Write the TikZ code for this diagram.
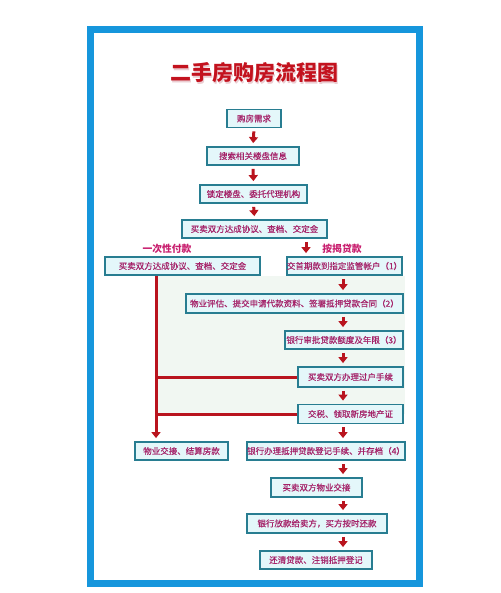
\documentclass[tikz,border=0pt]{standalone}
\usepackage{fontspec}
\setmainfont{Noto Sans CJK SC}
\newfontfamily\boxfont[FakeBold=0.4]{Noto Sans CJK SC}
\usetikzlibrary{arrows.meta,calc}
\definecolor{frameblue}{RGB}{22,150,220}
\definecolor{boxline}{RGB}{40,125,145}
\definecolor{boxfill}{RGB}{228,247,250}
\definecolor{txt}{RGB}{165,35,105}
\definecolor{lbl}{RGB}{200,30,110}
\definecolor{arr}{RGB}{185,20,30}
\definecolor{titlered}{RGB}{195,18,30}
\definecolor{shadowc}{RGB}{235,205,210}
\definecolor{tint}{RGB}{241,247,242}
\begin{document}
\begin{tikzpicture}[x=1pt,y=-1pt,
  box/.style={draw=boxline, line width=1.8pt, fill=boxfill, text=txt,
    font=\boxfont\fontsize{8.5}{10}\selectfont, minimum height=18pt, inner sep=0pt, anchor=center},
  lab/.style={text=lbl, font=\fontsize{9.8}{11}\selectfont\bfseries, inner sep=0pt},
  arrow/.style={draw=arr, line width=3pt, -{Triangle[width=9pt,length=6pt]},
    shorten <=3pt, shorten >=3pt},
  redline/.style={draw=arr, line width=3pt}]
\useasboundingbox (0,0) rectangle (500,593);
% frame
\draw[frameblue, line width=7pt] (90,30) rectangle (419,583);
% tint
\fill[tint] (158,276) rectangle (405,414);
% title
\node[text=shadowc, font=\fontsize{21}{24}\selectfont\bfseries] (tshadow) at (255.5,74.5) {二手房购房流程图};
\node[text=titlered, font=\fontsize{21}{24}\selectfont\bfseries] (title) at (254,73) {二手房购房流程图};
% column coordinates
\coordinate (ax) at (306,0);
\coordinate (rx) at (343,0);
\coordinate (lx) at (156,0);
% boxes
\node[box, minimum width=54pt] (b1) at (254,118.5) {购房需求};
\node[box, minimum width=92pt] (b2) at (253,156) {搜索相关楼盘信息};
\node[box, minimum width=107pt] (b3) at (253.5,194) {锁定楼盘、委托代理机构};
\node[box, minimum width=145pt] (b4) at (254.5,229) {买卖双方达成协议、查档、交定金};
\node[lab] (l1) at (167,249) {一次性付款};
\node[lab] (l2) at (342,249) {按揭贷款};
\node[box, minimum width=155pt] (b5l) at (182.5,266) {买卖双方达成协议、查档、交定金};
\node[box, minimum width=115pt] (b5r) at (344.5,266) {交首期款到指定监管帐户（1）};
\node[box, minimum width=217pt, minimum height=19pt] (b6) at (294.5,303.5) {物业评估、提交申请代款资料、签署抵押贷款合同（2）};
\node[box, minimum width=118pt] (b7) at (344,340) {银行审批贷款额度及年限（3）};
\node[box, minimum width=105pt, minimum height=20pt] (b8) at (350.5,377) {买卖双方办理过户手续};
\node[box, minimum width=105pt, minimum height=19pt] (b9) at (350.5,414) {交税、领取新房地产证};
\node[box, minimum width=93pt] (b10l) at (181.5,451) {物业交接、结算房款};
\node[box, minimum width=154pt] (b10r) at (326,451) {银行办理抵押贷款登记手续、并存档（4）};
\node[box, minimum width=91pt, minimum height=19pt] (b11) at (316.5,487.5) {买卖双方物业交接};
\node[box, minimum width=140pt, minimum height=19pt] (b12) at (317,523.5) {银行放款给卖方，买方按时还款};
\node[box, minimum width=112pt] (b13) at (316,560) {还清贷款、注销抵押登记};
% top arrows
\draw[arrow] (b1.south) -- (b2.north);
\draw[arrow] (b2.south) -- (b3.north);
\draw[arrow] (b3.south) -- (b4.north);
\draw[arrow] (b4.south -| ax) -- (b5r.north -| ax);
% right column
\draw[arrow] (b5r.south -| rx) -- (b6.north -| rx);
\draw[arrow] (b6.south -| rx) -- (b7.north -| rx);
\draw[arrow] (b7.south -| rx) -- (b8.north -| rx);
\draw[arrow] (b8.south -| rx) -- (b9.north -| rx);
\draw[arrow] (b9.south -| rx) -- (b10r.north -| rx);
\draw[arrow] (b10r.south -| rx) -- (b11.north -| rx);
\draw[arrow] (b11.south -| rx) -- (b12.north -| rx);
\draw[arrow] (b12.south -| rx) -- (b13.north -| rx);
% left line
\draw[arrow, shorten <=0pt] (b5l.south -| lx) -- (b10l.north -| lx);
\draw[redline] (lx |- b8.west) -- (b8.west);
\draw[redline] (lx |- b9.west) -- (b9.west);
\end{tikzpicture}
\end{document}
